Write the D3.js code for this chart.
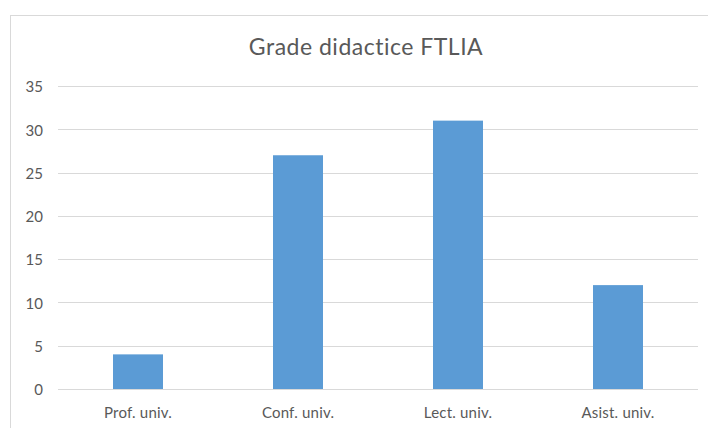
<!DOCTYPE html>
<html>
<head>
  <script src="https://d3js.org/d3.v7.min.js"></script>
  <style>
    body { margin: 0; padding: 0; background: white; overflow: hidden; }
    svg { display: block; }
  </style>
</head>
<body>
  <svg width="708" height="428"></svg>
  <script>
    const categories = ["Prof. univ.", "Conf. univ.", "Lect. univ.", "Asist. univ."];
    const values = [4, 27, 31, 12];
    const yTicks = [0, 5, 10, 15, 20, 25, 30, 35];

    const svg = d3.select("svg");
    const font = "Lato, 'Open Sans', sans-serif";
    const textColor = "#595959";

    // chart border (cropped on right and bottom)
    svg.append("rect")
      .attr("x", 10.5).attr("y", 15.5)
      .attr("width", 720).attr("height", 440)
      .attr("fill", "white")
      .attr("stroke", "#d9d9d9");

    const plot = { left: 58, right: 698, top: 86, bottom: 389 };

    const x = d3.scaleBand()
      .domain(categories)
      .range([plot.left, plot.right])
      .paddingInner(0.6875)
      .paddingOuter(0.34375);

    const y = d3.scaleLinear()
      .domain([0, 35])
      .range([plot.bottom, plot.top]);

    // gridlines
    svg.append("g")
      .selectAll("line")
      .data(yTicks)
      .enter().append("line")
        .attr("x1", plot.left).attr("x2", plot.right)
        .attr("y1", d => Math.round(y(d)) + 0.5)
        .attr("y2", d => Math.round(y(d)) + 0.5)
        .attr("stroke", "#d9d9d9")
        .attr("stroke-width", 1);

    // y axis labels
    const yAxis = svg.append("g")
      .attr("transform", "translate(43,1)")
      .call(d3.axisLeft(y).tickValues(yTicks).tickSize(0).tickPadding(0));
    yAxis.select(".domain").remove();
    yAxis.selectAll("text")
      .attr("font-family", font)
      .attr("font-size", "15px")
      .attr("fill", textColor);

    // bars
    svg.selectAll(".bar")
      .data(values)
      .enter().append("rect")
        .attr("class", "bar")
        .attr("x", (d, i) => x(categories[i]))
        .attr("y", d => y(d))
        .attr("width", x.bandwidth())
        .attr("height", d => y(0) - y(d))
        .attr("fill", "#5b9bd5");

    // x axis labels
    const xAxis = svg.append("g")
      .attr("transform", "translate(0,407)")
      .call(d3.axisBottom(x).tickSize(0).tickPadding(0));
    xAxis.select(".domain").remove();
    xAxis.selectAll("text")
      .attr("font-family", font)
      .attr("font-size", "15px")
      .attr("letter-spacing", "0.2px")
      .attr("fill", textColor);

    // title
    svg.append("text")
      .attr("x", 366)
      .attr("y", 55)
      .attr("text-anchor", "middle")
      .attr("font-family", font)
      .attr("font-size", "23px")
      .attr("letter-spacing", "0.5px")
      .attr("fill", textColor)
      .text("Grade didactice FTLIA");
  </script>
</body>
</html>
